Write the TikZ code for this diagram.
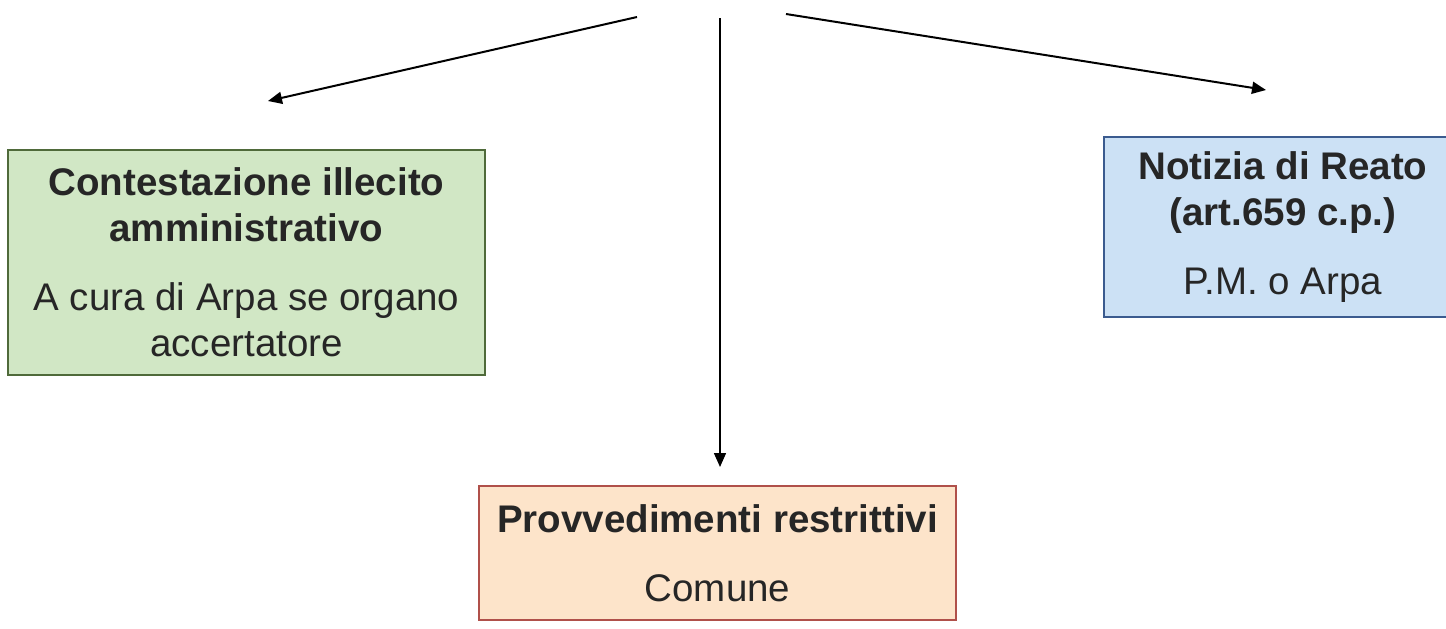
\documentclass[tikz,border=0pt]{standalone}
\usepackage{fontspec}
\setmainfont{Liberation Sans}
\usetikzlibrary{arrows.meta}
\definecolor{gfill}{HTML}{D1E7C5}
\definecolor{gdraw}{HTML}{4F6A3A}
\definecolor{bfill}{HTML}{CCE1F5}
\definecolor{bdraw}{HTML}{3B5B8F}
\definecolor{ofill}{HTML}{FDE4CA}
\definecolor{odraw}{HTML}{B0504A}
\begin{document}
\begin{tikzpicture}[x=1pt,y=-1pt,
  box/.style={rectangle, line width=1.5pt, inner sep=0pt, align=center,
    font=\fontsize{38.5}{46}\selectfont, text=black!85},
  conn/.style={line width=2pt, -{Triangle[length=14pt,width=12pt]}},
]
\useasboundingbox (0,0) rectangle (1446,629);
\node[box, fill=gfill, draw=gdraw, minimum width=477pt, minimum height=225pt] (green) at (246.5,262.5)
  {\textbf{Contestazione illecito}\\\textbf{amministrativo}\\[23pt]A cura di Arpa se organo\\accertatore};
\node[box, fill=bfill, draw=bdraw, minimum width=358pt, minimum height=180pt] (blue) at (1283,227)
  {\textbf{Notizia di Reato}\\\textbf{(art.659 c.p.)}\\[23pt]P.M. o Arpa};
\node[box, fill=ofill, draw=odraw, minimum width=477pt, minimum height=134pt] (orange) at (717.5,553)
  {\textbf{Provvedimenti restrittivi}\\[23pt]Comune};
\coordinate (sl) at (637,17);
\coordinate (el) at (268,101);
\coordinate (sm) at (720,18);
\coordinate (em) at (720,467);
\coordinate (sr) at (786,14);
\coordinate (er) at (1266,90);
\draw[conn] (sl) -- (el);
\draw[conn, line width=1.5pt] (sm) -- (em);
\draw[conn] (sr) -- (er);
\end{tikzpicture}
\end{document}
